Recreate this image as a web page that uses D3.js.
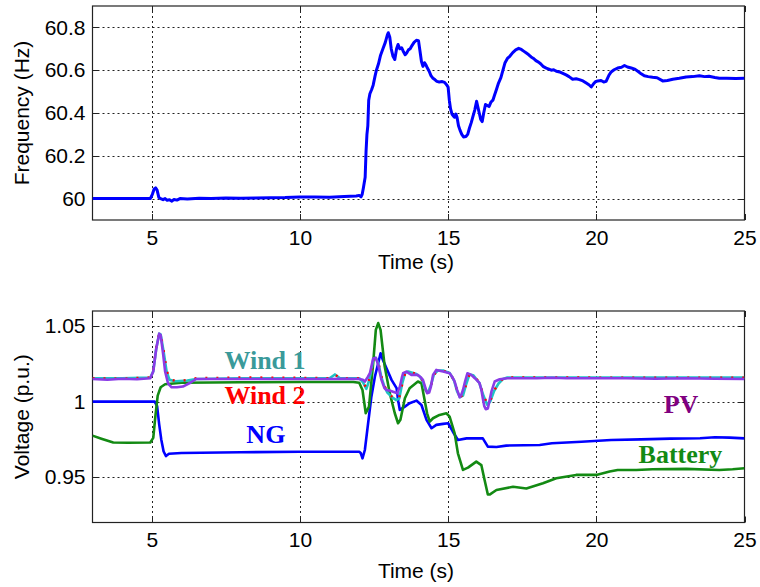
<!DOCTYPE html>
<html>
<head>
<meta charset="utf-8">
<script src="https://cdn.jsdelivr.net/npm/d3@7"></script>
<style>
  html, body { margin: 0; padding: 0; background: #fff; }
  svg { display: block; }
</style>
</head>
<body>
<svg id="chart" width="760" height="587"></svg>
<script>
// ---------------- DATA ----------------
const timeTicks = [5, 10, 15, 20, 25];
const freqTicks = [60, 60.2, 60.4, 60.6, 60.8];
const voltTicks = [0.95, 1, 1.05];

// [time (s), frequency (Hz)]
const frequency = [
  [3, 60.0],[4.95, 60.0],[5.02, 60.02],[5.08, 60.045],[5.13, 60.05],[5.18, 60.04],[5.24, 60.005],
  [5.3, 60.0],[5.38, 59.995],[5.45, 60.0],[5.52, 59.992],[5.6, 59.995],[5.68, 59.988],[5.75, 59.996],
  [5.85, 59.993],[5.95, 60.0],[6.2, 59.998],[6.6, 60.002],[7.0, 60.0],[7.5, 60.003],[8.0, 60.002],
  [8.5, 60.003],[9.0, 60.004],[9.5, 60.005],[10.0, 60.008],[10.5, 60.007],[11.0, 60.006],[11.5, 60.01],
  [11.9, 60.012],[12.0, 60.015],[12.06, 60.008],[12.1, 60.02],[12.14, 60.05],[12.2, 60.1],[12.23, 60.22],
  [12.26, 60.3],[12.29, 60.34],[12.32, 60.46],[12.36, 60.49],[12.42, 60.51],[12.47, 60.53],[12.53, 60.57],
  [12.58, 60.6],[12.65, 60.63],[12.72, 60.67],[12.8, 60.7],[12.88, 60.73],[12.95, 60.765],[12.98, 60.775],
  [13.03, 60.755],[13.08, 60.7],[13.14, 60.665],[13.2, 60.65],[13.26, 60.7],[13.31, 60.72],[13.37, 60.7],
  [13.43, 60.705],[13.48, 60.69],[13.55, 60.672],[13.6, 60.68],[13.66, 60.695],[13.72, 60.7],[13.78, 60.715],
  [13.85, 60.73],[13.93, 60.74],[14.0, 60.738],[14.05, 60.69],[14.1, 60.64],[14.15, 60.618],[14.2, 60.635],
  [14.25, 60.625],[14.3, 60.61],[14.36, 60.595],[14.42, 60.575],[14.49, 60.562],[14.56, 60.555],[14.62, 60.548],
  [14.7, 60.545],[14.8, 60.547],[14.88, 60.543],[14.96, 60.53],[15.0, 60.52],[15.04, 60.46],[15.08, 60.42],
  [15.13, 60.395],[15.18, 60.385],[15.22, 60.38],[15.26, 60.395],[15.3, 60.38],[15.35, 60.34],[15.4, 60.32],
  [15.46, 60.3],[15.52, 60.288],[15.6, 60.29],[15.66, 60.3],[15.72, 60.33],[15.78, 60.355],[15.84, 60.385],
  [15.9, 60.415],[15.96, 60.455],[16.0, 60.43],[16.05, 60.4],[16.1, 60.37],[16.15, 60.36],[16.2, 60.4],
  [16.26, 60.44],[16.32, 60.435],[16.38, 60.43],[16.44, 60.45],[16.51, 60.46],[16.57, 60.485],[16.63, 60.51],
  [16.7, 60.54],[16.78, 60.565],[16.85, 60.6],[16.92, 60.635],[17.0, 60.655],[17.08, 60.665],[17.18, 60.682],
  [17.28, 60.695],[17.38, 60.702],[17.47, 60.697],[17.56, 60.688],[17.64, 60.68],[17.72, 60.672],[17.8, 60.662],
  [17.88, 60.655],[17.96, 60.645],[18.05, 60.638],[18.12, 60.63],[18.2, 60.618],[18.31, 60.61],[18.4, 60.605],
  [18.48, 60.6],[18.56, 60.602],[18.65, 60.595],[18.76, 60.592],[18.87, 60.585],[18.98, 60.578],[19.08, 60.57],
  [19.2, 60.558],[19.32, 60.56],[19.43, 60.556],[19.55, 60.55],[19.66, 60.54],[19.75, 60.532],[19.83, 60.522],
  [19.9, 60.535],[19.97, 60.546],[20.05, 60.55],[20.16, 60.552],[20.25, 60.545],[20.33, 60.548],[20.42, 60.575],
  [20.5, 60.592],[20.6, 60.602],[20.72, 60.61],[20.85, 60.614],[20.95, 60.622],[21.05, 60.615],[21.18, 60.61],
  [21.3, 60.605],[21.4, 60.595],[21.5, 60.585],[21.62, 60.574],[21.75, 60.57],[21.9, 60.567],[22.05, 60.565],
  [22.24, 60.55],[22.4, 60.552],[22.58, 60.558],[22.8, 60.562],[23.03, 60.568],[23.25, 60.57],[23.48, 60.574],
  [23.65, 60.57],[23.8, 60.572],[24.0, 60.566],[24.15, 60.562],[24.4, 60.562],[24.7, 60.561],[25, 60.562]
];

// [time (s), voltage (p.u.)]
const wind1 = [
  [3,1.0155],[4,1.0155],[4.95,1.016],[5.05,1.02],[5.15,1.035],[5.25,1.045],[5.3,1.0445],[5.4,1.033],
  [5.5,1.02],[5.6,1.0144],[5.8,1.0135],[6.2,1.014],[6.5,1.015],[8,1.0155],[10,1.0155],[11,1.0155],
  [11.18,1.018],[11.35,1.0155],[12.0,1.0155],[12.12,1.013],[12.24,1.0085],[12.32,1.013],[12.4,1.02],
  [12.47,1.0275],[12.56,1.029],[12.65,1.025],[12.75,1.016],[12.85,1.01],[12.95,1.006],[13.1,1.003],
  [13.25,1.001],[13.35,1.002],[13.45,1.012],[13.55,1.019],[13.65,1.02],[13.9,1.0185],[14.05,1.0165],
  [14.15,1.013],[14.25,1.007],[14.33,1.0065],[14.42,1.011],[14.52,1.018],[14.65,1.0205],[14.85,1.0205],
  [15.05,1.019],[15.2,1.014],[15.3,1.007],[15.4,1.003],[15.5,1.004],[15.6,1.011],[15.72,1.018],
  [15.85,1.0175],[16.05,1.0125],[16.2,1.0035],[16.32,0.998],[16.42,1.0],[16.55,1.007],[16.7,1.012],
  [16.85,1.015],[17,1.016],[25,1.016]
];
const wind2 = [
  [3,1.0155],[4,1.0152],[4.95,1.016],[5.05,1.021],[5.15,1.036],[5.25,1.045],[5.3,1.045],[5.4,1.034],
  [5.5,1.021],[5.6,1.0148],[5.8,1.0138],[6.2,1.0142],[6.5,1.0155],[8,1.016],[10,1.0158],[11,1.0155],
  [11.18,1.018],[11.35,1.0155],[12.0,1.0155],[12.12,1.0132],[12.24,1.009],[12.32,1.013],[12.4,1.02],
  [12.47,1.027],[12.56,1.029],[12.65,1.0255],[12.75,1.0165],[12.85,1.0105],[12.95,1.0065],[13.1,1.0035],
  [13.25,1.0012],[13.35,1.0025],[13.45,1.0115],[13.55,1.0188],[13.65,1.0198],[13.9,1.0185],[14.05,1.0168],
  [14.15,1.0135],[14.25,1.0075],[14.33,1.0068],[14.42,1.0105],[14.52,1.0178],[14.65,1.0205],[14.85,1.0202],
  [15.05,1.019],[15.2,1.0142],[15.3,1.0075],[15.4,1.0032],[15.5,1.0042],[15.6,1.0108],[15.72,1.0178],
  [15.85,1.0175],[16.05,1.0128],[16.2,1.004],[16.32,0.9985],[16.42,1.0005],[16.55,1.0072],[16.7,1.0122],
  [16.85,1.0152],[17,1.016],[25,1.0158]
];
const pv = [
  [3,1.015],[3.5,1.0145],[4,1.0152],[4.5,1.0148],[4.95,1.0155],[5.05,1.02],[5.15,1.035],[5.25,1.045],
  [5.3,1.044],[5.38,1.032],[5.45,1.02],[5.55,1.012],[5.67,1.0095],[5.85,1.0095],[6.05,1.01],[6.3,1.0125],
  [6.5,1.015],[8,1.015],[10,1.015],[11,1.015],[11.5,1.0152],[12.0,1.015],[12.12,1.0145],[12.19,1.0133],
  [12.28,1.016],[12.36,1.0188],[12.42,1.024],[12.47,1.0285],[12.56,1.029],[12.64,1.0243],[12.75,1.0144],
  [12.85,1.009],[12.92,1.0077],[13.05,1.0072],[13.14,1.0066],[13.22,1.006],[13.28,1.0055],[13.37,1.0099],
  [13.44,1.016],[13.48,1.0188],[13.59,1.0199],[13.76,1.0177],[13.98,1.0177],[14.08,1.016],[14.15,1.0144],
  [14.22,1.01],[14.29,1.0056],[14.36,1.006],[14.42,1.01],[14.49,1.0177],[14.6,1.021],[14.83,1.0199],
  [15.05,1.0188],[15.15,1.016],[15.22,1.0133],[15.3,1.008],[15.39,1.0029],[15.45,1.005],[15.5,1.0077],
  [15.58,1.014],[15.65,1.0188],[15.78,1.0177],[15.9,1.0155],[16.06,1.0122],[16.12,1.008],[16.17,1.0022],
  [16.22,0.997],[16.27,0.995],[16.34,0.9955],[16.4,1.001],[16.46,1.0066],[16.57,1.0133],[16.74,1.0148],
  [17,1.0155],[18,1.0155],[18.5,1.0158],[19,1.0155],[20,1.0155],[21,1.0155],[22,1.0152],[23,1.0155],
  [24,1.0152],[25,1.015]
];
const ng = [
  [3,1.0],[5.1,1.0],[5.18,0.997],[5.25,0.985],[5.32,0.975],[5.4,0.967],[5.48,0.964],[5.58,0.9655],
  [6.0,0.966],[8,0.9665],[10,0.9668],[12.0,0.9668],[12.05,0.966],[12.11,0.9625],[12.19,0.968],
  [12.3,0.9857],[12.41,1.0033],[12.53,1.0166],[12.64,1.0254],[12.72,1.032],[12.8,1.0276],[12.92,1.0221],
  [13.09,1.0144],[13.26,1.0089],[13.32,1.0],[13.37,0.9945],[13.54,0.9967],[13.7,0.9989],[13.93,1.0007],
  [14.1,0.9978],[14.27,0.9879],[14.44,0.9824],[14.6,0.9846],[14.83,0.9853],[15.0,0.9857],[15.16,0.9801],
  [15.33,0.9746],[15.62,0.9757],[16.17,0.9757],[16.34,0.9702],[16.63,0.970],[16.96,0.9709],[18.09,0.9713],
  [18.5,0.9725],[19.5,0.9735],[20.5,0.9746],[21.5,0.975],[22.5,0.9755],[23.5,0.9758],[24,0.9764],
  [24.5,0.9762],[25,0.9757]
];
const battery = [
  [3,0.9775],[3.3,0.9755],[3.7,0.973],[4.2,0.9728],[4.95,0.973],[5.05,0.976],[5.12,0.99],[5.2,1.004],
  [5.3,1.0095],[5.45,1.0115],[6,1.0125],[8,1.0128],[10,1.013],[11.8,1.013],[12.0,1.0125],[12.11,1.0077],
  [12.22,0.9923],[12.33,0.9967],[12.47,1.0254],[12.56,1.0475],[12.64,1.052],[12.72,1.0475],[12.86,1.0232],
  [13.03,1.0056],[13.2,0.9923],[13.31,0.9857],[13.39,0.988],[13.54,1.0022],[13.7,1.0089],[13.98,1.0133],
  [14.1,1.0122],[14.29,0.9923],[14.38,0.9868],[14.49,0.989],[14.71,0.9912],[14.94,0.9923],[15.05,0.9901],
  [15.22,0.979],[15.33,0.9658],[15.5,0.9548],[15.67,0.9563],[15.95,0.9603],[16.12,0.958],[16.23,0.9481],
  [16.34,0.9385],[16.4,0.9385],[16.63,0.9415],[17.19,0.9437],[17.64,0.9425],[18.2,0.946],[18.65,0.9493],
  [19.32,0.9515],[20.0,0.9515],[20.45,0.9537],[20.72,0.9548],[21.35,0.9548],[21.9,0.9552],[23.03,0.9555],
  [24.15,0.9548],[24.6,0.9552],[25,0.9559]
];

const seriesLabels = ["Wind 1", "Wind 2", "NG", "PV", "Battery"];
// label anchor points in data coordinates (time, voltage)
const labelPos = [[8.82, 1.0215], [8.82, 0.9987], [8.85, 0.9725], [22.86, 0.9922], [22.84, 0.9595]];

// ---------------- DRAW ----------------
const svg = d3.select("#chart");
svg.append("rect").attr("width", 760).attr("height", 587).attr("fill", "#fff");

const left = 92.5, right = 744.5;
const x = d3.scaleLinear().domain([3, 25]).range([left, right]);
const sansFont = "'Liberation Sans', Arial, sans-serif";
const serifFont = "'Liberation Serif', 'Times New Roman', serif";

function panel(top, bottom, yDomain, yTickVals, yLabel, xLabelY) {
  const y = d3.scaleLinear().domain(yDomain).range([bottom, top]);
  const g = svg.append("g");

  // grid
  const grid = g.append("g").attr("stroke", "#222").attr("stroke-width", 1).attr("stroke-dasharray", "2,3");
  grid.selectAll("line.v").data(timeTicks.filter(t => t < 25)).join("line")
    .attr("x1", d => Math.round(x(d)) + 0.5).attr("x2", d => Math.round(x(d)) + 0.5)
    .attr("y1", top).attr("y2", bottom);
  grid.selectAll("line.h").data(yTickVals).join("line")
    .attr("y1", d => Math.round(y(d)) + 0.5).attr("y2", d => Math.round(y(d)) + 0.5)
    .attr("x1", left).attr("x2", right);

  // axes
  const xAxis = d3.axisBottom(x).tickValues(timeTicks).tickSize(0).tickPadding(10).tickFormat(d3.format("d"));
  const yAxis = d3.axisLeft(y).tickValues(yTickVals).tickSize(0).tickPadding(7).tickFormat(d => String(+d.toFixed(2)));
  const xa = g.append("g").attr("transform", `translate(0,${bottom})`).call(xAxis);
  const ya = g.append("g").attr("transform", `translate(${left},0)`).call(yAxis);
  [xa, ya].forEach(a => {
    a.select(".domain").remove();
    a.selectAll("text").attr("font-family", sansFont).attr("font-size", 21).attr("fill", "#000");
  });

  // inward ticks
  const tk = g.append("g").attr("stroke", "#222").attr("stroke-width", 1);
  timeTicks.forEach(t => {
    const px = Math.round(x(t)) + 0.5;
    tk.append("line").attr("x1", px).attr("x2", px).attr("y1", bottom).attr("y2", bottom - 6);
    tk.append("line").attr("x1", px).attr("x2", px).attr("y1", top).attr("y2", top + 6);
  });
  yTickVals.forEach(v => {
    const py = Math.round(y(v)) + 0.5;
    tk.append("line").attr("x1", left).attr("x2", left + 6).attr("y1", py).attr("y2", py);
    tk.append("line").attr("x1", right).attr("x2", right - 6).attr("y1", py).attr("y2", py);
  });

  // frame
  g.append("rect").attr("x", left).attr("y", top).attr("width", right - left).attr("height", bottom - top)
    .attr("fill", "none").attr("stroke", "#222").attr("stroke-width", 1.2);

  // labels
  g.append("text").attr("x", 416).attr("y", xLabelY).attr("text-anchor", "middle")
    .attr("font-family", sansFont).attr("font-size", 21).attr("fill", "#000").text("Time (s)");
  g.append("text").attr("transform", `translate(29,${(top + bottom) / 2}) rotate(-90)`).attr("text-anchor", "middle")
    .attr("font-family", sansFont).attr("font-size", 21).attr("fill", "#000").text(yLabel);

  const clipId = "clip" + Math.round(top);
  svg.append("clipPath").attr("id", clipId).append("rect")
    .attr("x", left).attr("y", top).attr("width", right - left).attr("height", bottom - top);
  const plot = svg.append("g").attr("clip-path", `url(#${clipId})`);
  return { y, plot };
}

// Top panel: frequency
const p1 = panel(6, 220, [59.9, 60.9], freqTicks, "Frequency (Hz)", 269);
const line1 = d3.line().x(d => x(d[0])).y(d => p1.y(d[1]));
p1.plot.append("path").datum(frequency).attr("d", line1)
  .attr("fill", "none").attr("stroke", "#0000ff").attr("stroke-width", 3).attr("stroke-linejoin", "round");

// Bottom panel: voltages
const p2 = panel(311, 522.5, [0.92, 1.06], voltTicks, "Voltage (p.u.)", 578);
const line2 = d3.line().x(d => x(d[0])).y(d => p2.y(d[1]));
const voltSeries = [
  { data: ng, color: "#0000ff", width: 2.6, dash: null },
  { data: battery, color: "#138a13", width: 2.6, dash: null },
  { data: wind1, color: "#1fc3c3", width: 2.6, dash: null },
  { data: wind2, color: "#ff0000", width: 2.4, dash: "2,9" },
  { data: pv, color: "#8a3be6", width: 2.6, dash: null }
];
voltSeries.forEach(s => {
  p2.plot.append("path").datum(s.data).attr("d", line2)
    .attr("fill", "none").attr("stroke", s.color).attr("stroke-width", s.width)
    .attr("stroke-linejoin", "round").attr("stroke-dasharray", s.dash);
});

const labelColors = ["#3a9a9a", "#ff0000", "#0000ff", "#800080", "#138a13"];
svg.append("g").selectAll("text").data(seriesLabels).join("text")
  .attr("x", (d, i) => x(labelPos[i][0]))
  .attr("y", (d, i) => p2.y(labelPos[i][1]))
  .attr("text-anchor", "middle")
  .attr("font-family", serifFont).attr("font-weight", "bold").attr("font-size", 26)
  .attr("fill", (d, i) => labelColors[i])
  .text(d => d);
</script>
</body>
</html>
